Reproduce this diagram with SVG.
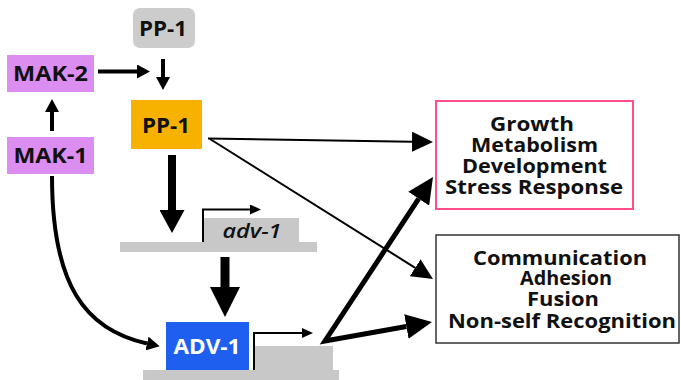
<svg xmlns="http://www.w3.org/2000/svg" width="681" height="380" viewBox="0 0 681 380">
<style>
  .lbl { font-family: "Open Sans", "Liberation Sans", sans-serif; font-weight: bold; font-size: 21px; fill: #111; text-anchor: middle; }
  .out { font-family: "Open Sans", "Liberation Sans", sans-serif; font-weight: bold; font-size: 20px; fill: #111; text-anchor: middle; }
  .gene { fill: #c8c8c8; }
  .c { fill: none; stroke: #000; }
</style>
<defs>
  <marker id="mSmall" markerUnits="userSpaceOnUse" markerWidth="13" markerHeight="14" refX="0" refY="7" orient="auto"><path d="M0,0 L13,7 L0,14 z" fill="#000"/></marker>
  <marker id="mThin" markerUnits="userSpaceOnUse" markerWidth="21" markerHeight="20" refX="0" refY="10" orient="auto"><path d="M0,0 L21,10 L0,20 z" fill="#000"/></marker>
  <marker id="mBig" markerUnits="userSpaceOnUse" markerWidth="26" markerHeight="25" refX="0" refY="12.5" orient="auto-start-reverse"><path d="M0,0 L26,12.5 L0,25 z" fill="#000"/></marker>
  <marker id="mDown1" markerUnits="userSpaceOnUse" markerWidth="23" markerHeight="25" refX="0" refY="12.5" orient="auto"><path d="M0,0 L23,12.5 L0,25 z" fill="#000"/></marker>
  <marker id="mDown2" markerUnits="userSpaceOnUse" markerWidth="30" markerHeight="30" refX="0" refY="15" orient="auto"><path d="M0,0 L30,15 L0,30 z" fill="#000"/></marker>
  <marker id="mProm" markerUnits="userSpaceOnUse" markerWidth="11" markerHeight="10" refX="0" refY="5" orient="auto"><path d="M0,0 L11,5 L0,10 z" fill="#000"/></marker>
</defs>

<!-- gene bars -->
<g id="gene-adv1">
  <rect class="gene" x="120" y="242" width="197" height="10"/>
  <rect class="gene" x="203" y="218" width="96" height="24"/>
  <text x="252" y="238" font-family="Open Sans, Liberation Sans, sans-serif" font-style="italic" font-weight="600" font-size="20" fill="#111" text-anchor="middle" textLength="59" lengthAdjust="spacingAndGlyphs">adv-1</text>
</g>
<g id="gene-target">
  <rect class="gene" x="143" y="370" width="196" height="10"/>
  <rect class="gene" x="255" y="346" width="78" height="24"/>
</g>

<g id="pp1-grey">
  <rect x="133" y="8" width="62" height="40" rx="7" fill="#cccccc"/>
  <text class="lbl" x="163" y="36" textLength="48" lengthAdjust="spacingAndGlyphs">PP-1</text>
</g>
<g id="mak2">
  <rect x="7" y="55" width="87" height="37" fill="#dc8df0"/>
  <text class="lbl" x="50.5" y="81" textLength="75" lengthAdjust="spacingAndGlyphs">MAK-2</text>
</g>
<g id="mak1">
  <rect x="7" y="137" width="87" height="37" fill="#dc8df0"/>
  <text class="lbl" x="50.5" y="163" textLength="74" lengthAdjust="spacingAndGlyphs">MAK-1</text>
</g>
<g id="pp1">
  <rect x="131" y="100" width="71" height="49" fill="#f7b200"/>
  <text class="lbl" x="166" y="133" textLength="48" lengthAdjust="spacingAndGlyphs">PP-1</text>
</g>
<g id="adv1">
  <rect x="166" y="322" width="83" height="48" fill="#1f5ff0"/>
  <text class="lbl" x="207" y="354" style="fill:#fff" textLength="67" lengthAdjust="spacingAndGlyphs">ADV-1</text>
</g>
<g id="growth">
  <rect x="436" y="101" width="197" height="108" fill="#fff" stroke="#ff4f8a" stroke-width="2"/>
  <text class="out" x="532" y="131" textLength="84" lengthAdjust="spacingAndGlyphs">Growth</text>
  <text class="out" x="534.5" y="152" textLength="127" lengthAdjust="spacingAndGlyphs">Metabolism</text>
  <text class="out" x="534.5" y="172.5" textLength="145" lengthAdjust="spacingAndGlyphs">Development</text>
  <text class="out" x="534" y="193.5" textLength="178" lengthAdjust="spacingAndGlyphs">Stress Response</text>
</g>
<g id="communication">
  <rect x="436" y="235" width="243" height="108" fill="#fff" stroke="#333" stroke-width="1.5"/>
  <text class="out" x="560" y="264.5" textLength="174" lengthAdjust="spacingAndGlyphs">Communication</text>
  <text class="out" x="566" y="285" textLength="92" lengthAdjust="spacingAndGlyphs">Adhesion</text>
  <text class="out" x="563" y="306" textLength="72" lengthAdjust="spacingAndGlyphs">Fusion</text>
  <text class="out" x="562" y="327.5" textLength="228" lengthAdjust="spacingAndGlyphs">Non-self Recognition</text>
</g>

<g id="connectors">
  <path class="c" d="M98,71.5 H137" stroke-width="4" marker-end="url(#mSmall)"/>
  <path class="c" d="M163,59 V77" stroke-width="4" marker-end="url(#mSmall)"/>
  <path class="c" d="M52,131 V112" stroke-width="4" marker-end="url(#mSmall)"/>
  <path class="c" d="M208,138.5 L412,141.7" stroke-width="2" marker-end="url(#mThin)"/>
  <path class="c" d="M210,139 L415.2,267.8" stroke-width="2" marker-end="url(#mThin)"/>
  <path class="c" d="M172,155 V210" stroke-width="8" marker-end="url(#mDown1)"/>
  <path class="c" d="M225,257 V287" stroke-width="9" marker-end="url(#mDown2)"/>
  <path class="c" d="M52,176 C52,285 85,330 147,343.5" stroke-width="4" marker-end="url(#mSmall)"/>
  <path class="c" d="M203,242 V209.5 H250" stroke-width="2" marker-end="url(#mProm)"/>
  <path class="c" d="M254,370 V333 H302" stroke-width="2" marker-end="url(#mProm)"/>
  <path class="c" d="M418.7,198.7 L325,341 L406.4,326.5" stroke-width="5" stroke-linejoin="miter" stroke-miterlimit="10" marker-start="url(#mBig)" marker-end="url(#mBig)"/>
</g>
</svg>
